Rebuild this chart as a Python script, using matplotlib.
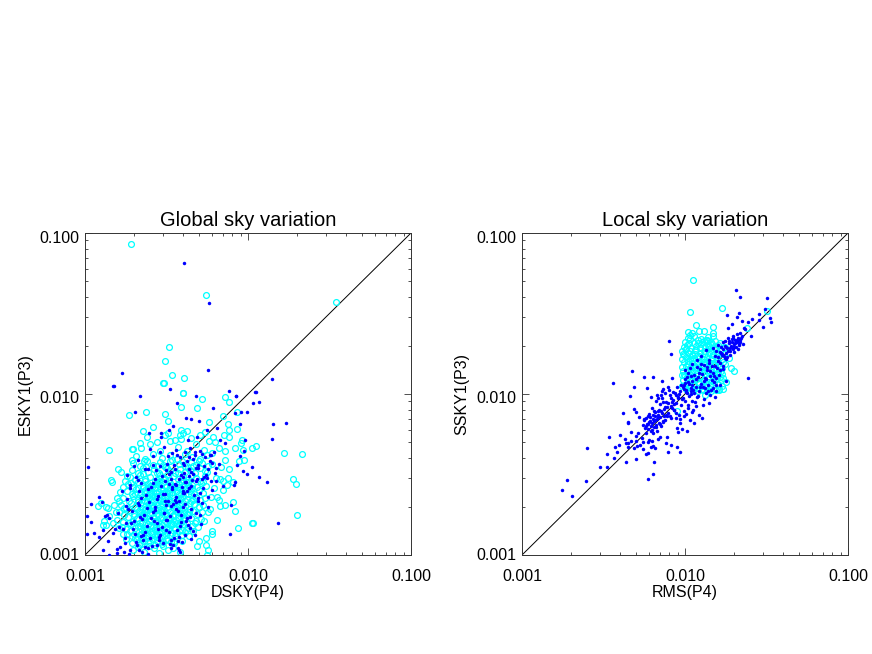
# -*- coding: utf-8 -*-
"""
Sky variation comparison, global and local. Values are in units of 1e-3.
"""
import numpy as np
import matplotlib
matplotlib.use('Agg')
import matplotlib.pyplot as plt
from matplotlib.ticker import FormatStrFormatter, NullFormatter
from matplotlib.transforms import ScaledTranslation

plt.rcParams['font.family'] = ['Liberation Sans', 'DejaVu Sans']

#%% Global sky: cyan rings
dsky_c = [
 1.97,2.12,2.31,2.47,2.64,2.83,3.02,3.21,3.48,3.80,
 1.95,2.08,2.21,2.36,2.52,2.69,2.85,3.03,3.24,3.52,
 2.02,2.15,2.29,2.44,2.60,2.77,2.95,3.14,3.38,3.95,
 1.82,1.93,2.05,2.17,2.31,2.46,2.62,2.78,2.97,3.17,
 1.88,2.00,2.12,2.25,2.39,2.54,2.70,2.88,3.07,3.30,
 3.42,3.58,3.75,3.93,4.12,4.35,2.22,2.58,2.92,4.62,
 1.68,1.79,1.91,2.03,2.16,2.30,2.45,2.61,2.78,2.96,
 3.15,3.35,3.56,3.78,4.02,4.28,4.55,4.90,1.85,2.10,
 2.23,2.37,2.53,2.69,2.87,3.05,3.25,3.46,3.68,3.92,
 1.58,1.70,1.83,1.96,2.09,2.23,2.38,2.54,2.71,2.89,
 3.08,3.28,3.50,3.73,3.97,4.23,4.50,4.80,5.15,2.00,
 2.16,2.31,2.47,2.63,2.80,2.98,3.18,3.39,3.62,3.86,
 1.62,1.74,1.87,2.00,2.14,2.28,2.43,2.59,2.76,2.94,
 3.13,3.33,3.55,3.78,4.03,4.29,4.57,4.87,5.20,2.07,
 2.21,2.36,2.51,2.68,2.85,3.04,3.24,3.45,3.68,3.93,
 1.66,1.78,1.91,2.04,2.18,2.32,2.47,2.64,2.81,3.00,
 3.19,3.40,3.62,3.86,4.11,4.38,4.66,4.97,5.30,2.11,
 2.25,2.40,2.56,2.73,2.91,3.10,3.30,3.52,3.75,4.00,
 1.72,1.85,1.98,2.11,2.25,2.40,2.56,2.72,2.90,3.09,
 3.29,3.50,3.73,3.97,4.23,4.50,4.79,5.10,5.45,2.18,
 2.32,2.48,2.64,2.81,3.00,3.19,3.40,3.62,3.85,4.11,
 1.80,1.93,2.06,2.20,2.34,2.50,2.66,2.83,3.02,3.22,
 3.43,3.65,3.89,4.14,4.41,4.69,5.00,5.33,2.27,2.58,
 2.42,2.74,2.92,3.11,3.32,3.54,3.77,4.02,4.28,4.55,
 1.84,1.98,2.12,2.27,2.42,2.58,2.75,2.93,3.12,3.32,
 3.54,3.77,4.02,4.28,4.56,4.85,5.17,5.50,2.35,2.67,
 3.03,3.43,3.90,4.42,2.50,2.84,3.65,4.15,1.92,5.30,
 1.88,2.03,2.18,2.34,2.50,2.68,2.87,3.07,3.28,3.50,
 3.73,3.98,4.24,4.51,4.80,5.11,5.45,2.26,2.78,3.17,
 1.93,2.10,2.27,2.45,2.65,2.86,3.08,3.32,3.57,3.84,
 4.13,4.43,4.75,5.08,5.42,2.36,2.75,3.20,3.70,4.28,
 1.98,2.18,2.40,2.63,2.88,3.15,3.44,3.75,4.08,4.44,
 4.82,5.22,5.65,2.29,2.75,3.30,3.92,4.62,5.00,3.02,
 2.05,2.32,2.62,2.95,3.30,3.68,4.10,4.55,5.05,5.60,
 1.92,5.52,34.7,3.26,3.08,3.40,4.05,3.04,3.97,3.01,
 3.99,5.22,3.88,4.86,1.86,2.37,3.10,7.22,7.65,8.57,
 7.03,2.61,3.23,2.27,3.23,3.88,4.23,3.83,3.88,5.77,
 7.54,7.65,8.57,7.13,7.65,5.45,6.10,9.19,9.06,8.32,
 9.31,10.59,11.2,16.63,9.45,8.80,2.17,1.94,1.97,1.40,
 1.94,1.60,1.66,1.44,1.46,1.20,1.25,1.35,1.38,1.29,
 1.35,8.68,10.59,6.01,5.52,5.68,5.60,4.86,8.09,8.32,
 7.22,6.73,5.85,6.45,7.54,8.09,7.43,6.73,7.03,6.45,
 21.43,18.88,19.69,19.98,10.74,
 2.2,2.5,2.9,3.3,3.7,4.2,4.8,5.4,6.0,6.6,
 2.4,2.75,3.1,3.55,4.0,4.5,5.1,5.8,6.3,7.2,
 5.6,6.0,6.4,6.8,7.2,6.2,5.9,6.6,7.0,7.6,
 1.30,1.40,1.48,1.55,1.62,1.50,1.58,1.65,1.72,1.78,
 1.62,1.70,1.75,1.82,1.74,5.4,5.7,6.0,5.5,5.0,
 2.24,2.67,3.13,3.58,4.06,2.42,2.88,3.36,3.82,2.33,
 2.58,3.01,3.47,3.94,4.42,2.51,2.96,3.41,3.87,4.33,
 2.73,3.22,3.70,4.18,2.47,2.93,3.27,3.63,4.12,4.63,
 2.11,2.38,2.82,3.11,3.52,4.25,2.19,2.64,3.05,4.71,
 2.29,2.78,3.17,3.66,2.03,2.54,3.33,3.79,4.48,5.02,
]
esky_c = [
 1.08,1.12,1.04,1.14,1.10,1.03,1.13,1.07,1.11,1.05,
 1.19,1.25,1.17,1.27,1.21,1.16,1.28,1.20,1.24,1.18,
 1.27,1.16,1.23,1.18,1.26,1.22,1.17,1.25,1.20,1.23,
 1.36,1.31,1.40,1.33,1.38,1.30,1.41,1.35,1.32,1.39,
 1.41,1.35,1.30,1.42,1.34,1.39,1.31,1.37,1.42,1.33,
 1.37,1.31,1.40,1.33,1.38,1.32,1.36,1.35,1.39,1.41,
 1.50,1.45,1.55,1.47,1.52,1.44,1.56,1.49,1.46,1.54,
 1.48,1.53,1.45,1.51,1.56,1.47,1.52,1.49,1.57,1.51,
 1.57,1.46,1.53,1.44,1.50,1.57,1.44,1.55,1.57,1.44,
 1.66,1.60,1.71,1.63,1.69,1.59,1.73,1.64,1.61,1.70,
 1.63,1.68,1.60,1.72,1.65,1.59,1.69,1.62,1.67,1.74,
 1.59,1.74,1.62,1.72,1.60,1.73,1.74,1.59,1.66,1.61,
 1.84,1.78,1.90,1.80,1.87,1.76,1.91,1.82,1.79,1.88,
 1.81,1.86,1.77,1.90,1.83,1.76,1.88,1.79,1.85,1.92,
 1.77,1.92,1.79,1.89,1.76,1.91,1.92,1.77,1.84,1.78,
 2.03,1.96,2.10,1.98,2.06,1.94,2.11,2.01,1.97,2.08,
 2.00,2.05,1.95,2.09,2.02,1.94,2.07,1.98,2.04,2.12,
 1.95,2.12,1.97,2.09,1.94,2.10,2.12,1.95,2.03,1.96,
 2.25,2.17,2.32,2.19,2.28,2.15,2.34,2.22,2.18,2.30,
 2.21,2.27,2.16,2.31,2.24,2.15,2.29,2.19,2.26,2.35,
 2.16,2.35,2.18,2.31,2.15,2.33,2.35,2.16,2.25,2.17,
 2.49,2.40,2.57,2.43,2.52,2.38,2.59,2.46,2.41,2.55,
 2.45,2.51,2.39,2.56,2.48,2.38,2.53,2.42,2.60,2.39,
 2.60,2.42,2.56,2.38,2.58,2.60,2.39,2.49,2.40,2.59,
 2.75,2.65,2.84,2.68,2.78,2.63,2.86,2.72,2.66,2.81,
 2.70,2.77,2.64,2.83,2.74,2.63,2.80,2.67,2.87,2.64,
 2.85,2.64,2.87,2.66,2.67,2.83,2.63,2.86,2.80,2.86,
 3.04,2.93,3.14,2.96,3.07,2.90,3.16,3.00,2.94,3.10,
 2.98,3.06,2.91,3.12,3.02,2.90,3.09,3.17,2.91,3.15,
 3.36,3.24,3.47,3.27,3.40,3.21,3.50,3.31,3.25,3.43,
 3.29,3.38,3.22,3.45,3.34,3.51,3.22,3.49,3.21,3.48,
 3.72,3.58,3.83,3.62,3.76,3.55,3.87,3.66,3.59,3.79,
 3.64,3.74,3.56,3.85,3.56,3.84,3.86,3.55,3.82,3.60,
 4.10,3.95,4.22,4.00,4.15,3.92,4.27,4.05,3.97,4.18,
 85.5,41.2,37.3,19.5,16.03,13.06,12.57,11.75,10.1,11.7,
 10.14,9.31,8.30,8.18,7.41,7.73,7.52,9.57,8.91,7.73,
 7.30,6.24,6.79,5.89,5.72,5.97,5.89,5.56,5.25,6.70,
 6.52,5.97,6.07,5.56,5.41,5.80,5.41,5.18,4.96,4.62,
 4.49,4.62,4.75,4.30,3.89,3.84,4.96,4.55,4.55,4.49,
 3.89,3.42,3.28,2.92,2.84,2.01,2.10,1.99,1.96,1.53,
 1.53,1.47,1.58,1.35,1.15,1.07,1.00,1.14,2.13,1.88,
 2.05,2.01,1.93,1.65,3.01,2.84,2.72,2.97,2.53,2.29,
 4.24,2.97,2.76,1.77,1.58,
 4.6,4.9,4.4,5.1,4.7,4.4,4.9,4.5,4.3,4.6,
 5.4,5.0,5.6,5.2,5.7,5.3,5.6,5.1,5.0,4.4,
 3.3,3.7,3.0,3.5,3.9,2.6,2.3,2.2,2.9,3.4,
 1.62,1.75,1.58,1.85,1.47,2.05,2.25,2.45,1.35,1.26,
 2.15,2.65,2.9,3.1,1.95,1.62,1.85,1.40,1.28,1.22,
 1.28,1.62,1.33,1.47,1.69,1.98,2.21,1.55,1.83,2.44,
 2.03,2.55,1.74,2.28,2.11,1.52,1.41,2.09,1.61,1.86,
 2.76,1.69,2.64,1.42,2.27,1.86,2.42,1.37,2.56,2.20,
 2.60,1.44,1.89,2.97,1.22,1.79,1.85,2.34,2.18,1.57,
 1.71,1.30,1.57,2.01,2.39,2.68,2.71,2.77,2.39,1.98,
]

#%% Global sky: blue dots
dsky_b = [
 4.03,5.79,1.69,1.50,3.32,5.66,7.68,11.09,14.03,1.49,
 2.17,3.67,2.03,4.80,6.10,8.44,4.17,4.47,5.00,2.47,
 2.93,2.93,3.27,3.47,4.28,4.86,5.60,6.45,6.73,7.22,
 5.85,1.04,1.03,1.09,1.22,1.27,1.03,1.09,1.13,1.22,
 1.29,1.49,1.33,1.40,1.36,1.40,1.29,1.57,1.57,1.73,
 1.76,17.1,14.24,14.03,15.28,13.08,11.67,10.59,9.86,9.31,
 9.59,9.45,8.93,8.57,8.93,9.86,9.06,8.32,10.74,11.67,
 11.2,8.44,8.32,8.20,7.87,7.76,
 4.02,4.25,4.48,4.70,4.95,5.20,5.45,5.70,6.00,6.40,
 4.10,4.35,4.60,4.85,5.10,5.35,5.60,5.90,6.25,6.65,
 1.75,1.92,2.05,2.18,2.33,2.41,2.57,2.66,2.88,3.05,
 1.84,1.98,2.12,2.25,2.37,2.49,2.61,2.75,2.95,3.12,
 1.68,1.88,2.02,2.15,2.28,2.44,2.53,2.70,2.82,3.00,
 3.16,3.24,3.33,3.42,3.51,3.60,3.72,3.84,3.97,4.10,
 3.08,3.20,3.29,3.38,3.47,3.56,3.66,3.78,3.90,4.05,
 4.18,4.32,4.45,4.60,4.78,4.95,5.15,5.40,5.65,6.00,
 3.12,3.26,3.36,3.50,3.62,3.75,3.88,4.02,4.22,4.40,
 1.80,2.00,2.22,2.45,2.68,2.92,3.18,3.45,3.75,4.08,
 2.10,2.35,2.60,2.85,3.10,3.40,3.70,4.05,4.40,4.80,
 2.25,2.50,2.78,3.05,3.35,3.65,4.00,4.35,4.75,5.20,
 1.72,1.95,2.22,2.48,2.75,3.02,3.31,3.62,3.95,4.30,
 1.82,2.08,2.31,2.62,2.85,3.15,3.44,3.78,4.12,4.52,
 1.90,2.14,2.40,2.70,2.98,3.28,3.58,3.88,4.24,4.65,
 2.00,2.27,2.55,2.80,3.10,3.39,3.70,4.00,4.37,4.82,
 1.60,1.78,2.11,2.43,2.73,3.07,3.36,3.64,3.92,4.45,
 4.05,4.32,4.58,4.90,5.25,5.55,5.85,6.15,4.72,5.05,
 3.55,3.85,4.15,4.40,4.90,5.30,5.70,2.90,3.25,3.60,
 1.38,1.52,1.65,1.78,1.90,2.05,2.20,2.35,2.60,2.90,
 3.80,4.50,5.10,1.62,1.85,2.15,2.45,5.90,6.40,7.00,
]
esky_b = [
 65.1,36.9,13.44,11.26,10.74,14.03,10.48,10.33,12.4,11.2,
 9.70,8.79,7.73,9.70,8.18,9.70,7.10,7.00,6.79,5.72,
 5.72,5.41,5.97,6.32,5.18,5.41,5.97,6.15,5.18,4.96,
 4.18,3.52,1.75,2.07,2.29,2.13,1.35,1.60,1.37,1.29,
 1.43,1.37,1.75,1.70,1.77,1.00,1.07,1.09,1.03,1.04,
 1.19,6.60,6.52,5.25,1.58,2.84,3.05,3.52,3.18,3.32,
 5.18,4.43,4.12,3.62,6.52,7.73,7.73,7.62,8.79,8.91,
 10.28,9.70,2.84,2.72,2.05,1.35,
 3.05,3.85,3.30,4.20,3.60,2.95,4.05,3.40,3.75,2.90,
 4.35,3.10,3.95,2.98,4.40,3.55,3.00,4.15,3.25,3.70,
 1.27,1.58,1.21,1.72,1.39,1.95,1.13,1.63,1.33,1.82,
 1.92,1.45,2.10,1.68,2.35,1.28,1.85,2.22,1.50,2.05,
 2.48,2.72,1.36,2.05,1.24,2.58,1.70,2.95,2.32,1.18,
 1.42,2.15,1.75,2.65,1.28,2.30,1.88,1.52,2.50,1.33,
 2.90,1.66,3.20,2.02,1.15,2.75,1.44,2.18,1.78,2.42,
 1.62,2.60,1.93,1.40,2.88,2.26,1.55,3.05,1.98,2.52,
 3.35,2.78,1.24,3.60,2.12,2.95,1.60,3.75,2.48,1.72,
 3.15,3.55,2.25,3.40,1.90,2.70,3.70,2.08,1.08,2.85,
 3.90,1.12,4.10,1.30,2.40,4.30,1.22,3.25,1.48,3.45,
 1.05,4.55,1.16,4.70,1.10,4.20,2.00,2.60,1.34,2.10,
 1.46,1.87,1.31,2.14,1.59,2.38,1.17,1.92,2.63,1.54,
 2.24,1.15,1.76,2.81,1.24,1.66,2.56,1.29,2.08,2.92,
 1.07,2.48,1.52,1.98,3.08,1.38,2.20,3.15,1.69,2.35,
 1.63,1.34,2.65,1.46,2.16,3.30,1.11,2.44,3.42,1.82,
 1.82,1.58,2.92,1.10,3.35,1.82,2.98,2.72,1.20,2.70,
 3.62,4.05,3.18,3.48,4.25,3.12,3.82,4.35,4.38,2.42,
 3.42,4.05,2.85,4.60,2.15,2.62,2.30,3.58,4.10,4.52,
 1.22,1.45,1.12,2.02,2.62,3.05,2.80,3.40,3.60,4.35,
 1.05,1.26,1.78,1.50,1.02,1.08,1.02,2.90,3.45,2.70,
]

#%% Local sky: cyan rings
rms_c = [
 9.62,10.1,10.7,11.4,12.0,12.7,13.5,14.2,15.1,15.9,
 9.70,10.3,10.9,11.6,12.3,13.0,13.8,14.6,15.5,16.3,
 9.58,10.0,10.6,11.2,11.9,12.6,13.3,14.1,14.9,15.8,
 9.75,10.4,11.0,11.7,12.4,13.1,13.9,14.7,15.6,16.6,
 9.60,10.2,10.8,11.3,12.1,12.8,13.6,14.4,15.3,16.2,
 9.80,10.5,11.1,11.8,12.5,13.2,14.0,14.9,15.7,17.1,
 9.65,10.1,10.7,11.4,12.2,12.9,13.7,14.5,15.4,16.8,
 9.90,10.4,11.0,11.5,12.4,13.2,14.0,14.8,15.8,17.4,
 9.62,10.2,10.8,11.6,12.3,13.0,13.8,14.6,15.5,16.5,
 9.85,10.3,10.9,11.7,12.5,13.3,14.1,15.0,16.0,17.6,
 10.1,10.6,11.2,11.9,12.7,13.5,14.3,15.2,16.2,17.0,
 10.0,10.7,11.3,12.0,12.8,13.6,14.4,15.3,16.4,17.9,
 10.4,10.8,11.4,12.1,12.9,13.7,14.5,15.4,16.1,16.9,
 11.2,32.0,10.7,16.9,11.68,14.85,13.05,14.85,10.43,11.35,
 13.84,14.85,10.43,13.05,13.84,10.59,12.0,19.15,20.0,18.6,
 24.0,16.9,13.3,8.93,11.0,12.2,13.5,14.7,10.8,12.6,
 9.9,10.5,11.1,11.8,12.5,13.3,14.2,15.1,16.0,16.9,
 9.7,10.3,11.0,11.6,12.4,13.1,14.0,14.9,15.9,17.2,
 10.2,10.9,11.5,12.2,13.0,13.9,14.7,15.6,16.6,17.5,
]
ssky_c = [
 11.2,11.6,11.1,11.4,11.8,11.2,11.5,11.3,11.9,11.6,
 12.2,12.6,12.1,12.4,12.7,12.2,12.5,12.1,12.4,12.7,
 13.1,12.9,13.3,13.0,13.4,12.9,13.2,13.5,13.0,13.3,
 13.8,14.1,13.7,14.0,14.3,13.8,14.1,13.7,14.2,13.9,
 14.7,15.0,14.6,14.9,15.2,14.7,15.0,14.6,15.1,14.8,
 15.7,16.0,15.5,15.8,16.1,15.6,15.9,15.5,16.0,15.7,
 16.6,17.0,16.5,16.8,17.1,16.6,16.9,16.5,17.0,16.6,
 17.5,18.0,17.4,17.7,18.1,17.6,17.9,17.4,18.0,17.6,
 18.6,19.0,18.4,18.8,19.2,18.5,18.9,18.4,19.0,18.6,
 19.6,20.2,19.4,19.8,20.4,19.5,20.0,19.3,20.1,19.5,
 10.7,11.0,10.6,10.9,10.8,11.0,10.7,10.9,10.6,10.8,
 21.0,22.0,20.8,21.5,20.9,21.8,21.0,21.2,20.6,11.9,
 11.3,10.4,10.7,10.5,10.6,10.4,10.5,10.6,10.7,13.4,
 51.1,32.8,32.4,34.2,26.8,26.1,24.6,23.9,24.3,22.9,
 22.6,22.9,22.3,21.3,21.3,20.7,20.7,14.49,13.9,16.74,
 25.7,11.22,9.85,7.84,23.8,24.5,21.5,20.5,23.2,22.0,
 13.1,15.3,12.3,17.3,14.0,18.4,15.6,13.4,18.0,14.6,
 17.8,12.8,16.2,14.7,19.4,16.6,11.9,17.4,13.7,12.5,
 19.0,14.2,18.8,11.6,15.8,20.1,13.1,19.1,12.3,15.3,
]

#%% Local sky: blue dots
rms_b = [
 5.52,5.63,5.71,5.80,5.86,5.95,6.02,6.08,6.15,6.22,
 6.28,6.35,6.41,6.48,6.55,6.62,6.70,6.78,6.85,6.95,
 7.02,7.10,7.20,7.30,7.42,7.55,5.75,6.05,6.32,6.58,
 6.30,6.60,6.85,7.05,7.25,7.45,7.65,7.85,8.05,8.25,
 8.40,8.55,8.70,8.85,9.00,9.15,9.30,9.45,9.60,9.80,
 10.0,10.2,10.4,10.6,7.50,8.00,8.90,9.90,7.15,8.60,
 7.75,8.25,8.85,9.35,10.1,10.7,11.2,10.9,6.85,7.30,
 9.35,9.65,9.10,10.3,11.4,12.2,11.0,12.8,9.85,8.95,
 9.70,10.0,10.2,10.4,10.6,10.8,11.0,11.2,11.4,11.6,
 11.8,12.0,12.2,12.4,12.6,12.8,13.0,13.2,13.4,13.6,
 13.8,14.0,14.2,14.4,14.6,14.8,15.0,15.2,15.5,15.8,
 16.1,16.4,16.8,17.2,17.6,11.1,12.5,13.5,14.8,10.9,
 12.0,13.1,14.2,15.4,11.5,12.9,14.0,15.3,16.5,17.9,
 16.0,16.4,16.9,17.2,17.5,17.9,18.2,18.5,18.8,19.1,
 19.4,19.7,20.0,20.3,20.6,20.9,21.2,21.5,21.9,22.3,
 17.0,18.0,19.0,20.0,21.0,18.4,19.6,20.8,22.6,23.0,
 1.76,2.03,1.89,2.47,2.51,3.01,3.32,3.32,3.67,3.83,
 3.72,3.94,3.42,3.99,4.35,5.00,4.35,4.47,4.47,4.66,
 5.00,5.00,4.29,5.15,5.45,5.52,5.08,4.86,5.30,5.52,
 5.76,5.93,6.01,5.93,6.27,6.55,6.18,6.36,6.83,7.03,
 7.76,7.65,8.20,8.93,9.31,7.87,6.45,6.36,5.93,3.62,
 4.86,5.85,4.60,4.17,4.86,5.00,4.47,4.47,4.73,5.60,
 6.36,7.22,8.31,7.98,8.20,20.56,21.75,31.84,30.96,28.44,
 33.22,33.73,30.13,28.44,25.76,24.37,21.45,18.1,20.84,22.39,
 19.4,18.36,21.75,23.34,25.41,19.68,24.37,6.15,4.65,5.25,
 5.60,5.78,5.92,6.10,6.25,6.38,6.52,6.68,6.82,7.00,
 7.15,7.33,7.50,7.70,7.85,8.05,8.20,8.38,8.55,8.75,
 5.90,6.45,6.90,7.35,7.80,8.30,8.80,9.25,9.70,10.3,
 9.85,10.4,10.9,11.4,11.9,12.4,13.0,13.6,14.3,15.0,
 10.3,10.9,11.6,12.2,12.9,13.4,14.1,14.8,15.6,16.4,
 9.95,11.0,11.8,12.6,13.2,13.9,14.6,15.2,16.0,17.0,
 16.6,17.3,17.8,18.3,18.7,19.2,19.8,20.3,20.9,21.6,
 17.6,18.9,19.5,20.1,21.3,22.0,15.6,15.9,16.7,17.8,
 6.7,7.2,7.9,8.4,9.0,9.5,10.0,10.5,11.1,11.7,
]
ssky_b = [
 6.42,6.85,6.15,7.05,6.50,6.05,6.72,7.20,6.30,5.85,
 6.62,7.00,6.20,6.80,7.35,6.45,5.92,6.95,7.45,6.60,
 7.15,6.35,7.60,6.75,7.25,6.90,5.70,7.55,5.75,7.70,
 8.15,9.10,7.85,8.70,9.50,8.05,8.95,7.60,9.85,8.40,
 9.20,7.95,10.1,8.75,9.55,7.40,10.4,8.50,9.30,7.85,
 9.10,10.6,8.60,9.70,10.2,10.6,11.0,11.3,9.85,8.00,
 7.25,7.10,7.05,6.95,7.55,6.85,7.95,10.9,9.45,10.8,
 6.60,6.10,5.80,5.85,6.65,7.45,7.70,7.10,7.30,6.15,
 11.0,12.4,10.3,13.6,11.6,14.6,12.1,10.6,13.1,11.1,
 16.2,12.7,10.4,14.2,11.5,13.3,15.1,10.9,12.4,14.0,
 11.4,16.3,12.9,10.6,15.0,13.6,11.8,17.2,12.6,14.5,
 13.2,15.6,17.4,14.3,16.8,15.3,17.3,18.8,19.2,10.0,
 9.75,9.35,9.85,10.4,8.95,8.55,8.85,9.55,11.3,12.1,
 17.0,18.2,17.6,18.9,19.9,17.9,19.2,20.6,18.5,20.0,
 21.0,19.3,20.4,21.7,19.6,20.9,22.3,20.2,21.5,22.8,
 20.9,16.9,17.5,18.2,18.9,22.2,22.8,23.5,20.4,25.6,
 2.53,2.32,2.92,2.88,4.62,3.52,3.52,4.24,4.00,4.36,
 4.69,4.82,5.41,5.56,3.78,3.94,4.96,4.96,4.69,5.11,
 5.11,5.48,5.25,5.72,5.33,5.03,4.75,4.62,4.82,4.55,
 4.24,4.30,5.18,5.03,5.11,4.62,4.69,4.75,5.25,5.41,
 5.41,4.96,4.82,4.69,4.36,4.36,3.78,3.18,2.97,11.7,
 11.05,10.9,9.70,7.62,8.07,7.73,6.70,6.60,13.9,12.76,
 12.76,12.05,12.57,21.3,17.7,44.3,40.0,39.5,33.73,31.4,
 29.65,28.0,26.06,28.84,29.23,28.0,31.84,30.96,30.06,28.38,
 27.23,25.7,23.93,25.35,22.9,22.28,12.57,9.55,5.82,7.15,
 7.0,6.35,7.25,6.75,5.95,7.42,6.90,6.25,7.20,6.50,
 7.85,6.70,8.25,7.40,8.80,7.30,9.40,8.20,8.65,9.85,
 6.55,7.85,7.90,8.95,8.35,8.90,7.60,9.95,9.50,10.1,
 10.7,11.9,12.9,10.2,14.8,11.0,12.0,14.8,13.9,12.9,
 12.8,10.4,12.4,13.6,11.0,10.1,15.6,10.9,11.4,14.1,
 14.0,11.4,9.6,15.4,12.6,10.5,12.2,14.9,16.0,15.0,
 18.0,17.2,19.5,18.6,21.3,19.6,18.9,20.6,21.7,21.0,
 21.3,19.4,21.9,19.6,20.5,22.2,18.6,20.2,19.7,16.4,
 9.9,10.5,11.1,10.3,9.5,11.4,11.7,8.2,9.0,8.4,
]

titles = ['Global sky variation', 'Local sky variation']
xlabels = ['DSKY(P4)', 'RMS(P4)']
ylabels = ['ESKY1(P3)', 'SSKY1(P3)']
panels = [(dsky_c, esky_c, dsky_b, esky_b), (rms_c, ssky_c, rms_b, ssky_b)]
lefts = [85, 522]

#%% Plot
fig = plt.figure(figsize=(8.72, 6.54), dpi=100)

for i in range(2):
    xc, yc, xb, yb = [np.array(v) * 1e-3 for v in panels[i]]
    ax = fig.add_axes([lefts[i] / 872, 99 / 654, 326 / 872, 322 / 654])
    ax.plot([0.001, 0.1], [0.001, 0.1], color='k', lw=0.7, zorder=1)
    ax.plot(xc, yc, 'o', mfc='none', mec='#00ffff', ms=4.2, mew=0.9, zorder=2)
    ax.plot(xb, yb, 'o', color='#0000ff', ms=2.5, mew=0, zorder=3)
    ax.set_xscale('log')
    ax.set_yscale('log')
    ax.set_xlim(0.001, 0.1)
    ax.set_ylim(0.001, 0.1)
    ax.set_xticks([0.001, 0.01, 0.1])
    ax.set_yticks([0.001, 0.01, 0.1])
    ax.xaxis.set_major_formatter(FormatStrFormatter('%.3f'))
    ax.yaxis.set_major_formatter(FormatStrFormatter('%.3f'))
    ax.xaxis.set_minor_formatter(NullFormatter())
    ax.yaxis.set_minor_formatter(NullFormatter())
    ax.tick_params(which='major', direction='in', length=5, width=0.6,
                   top=True, right=True, labelsize=11.5, color='#333333')
    ax.tick_params(which='minor', direction='in', length=2.5, width=0.6,
                   top=True, right=True, color='#333333')
    ax.tick_params(axis='x', which='major', pad=10)
    ax.tick_params(axis='y', which='major', pad=4)
    for s in ax.spines.values():
        s.set_linewidth(0.7)
        s.set_color('#333333')
    ax.set_title(titles[i], fontsize=14.5, pad=5)
    ax.set_xlabel(xlabels[i], fontsize=11.5, labelpad=1)
    ax.set_ylabel(ylabels[i], fontsize=11.5, labelpad=5)
    # y labels sit a little below their ticks in the original
    for lab, dy in zip(ax.get_yticklabels(), [1, -2, -3]):
        lab.set_transform(lab.get_transform() + ScaledTranslation(0, dy / 72, fig.dpi_scale_trans))

plt.savefig('out.png', dpi=100)
